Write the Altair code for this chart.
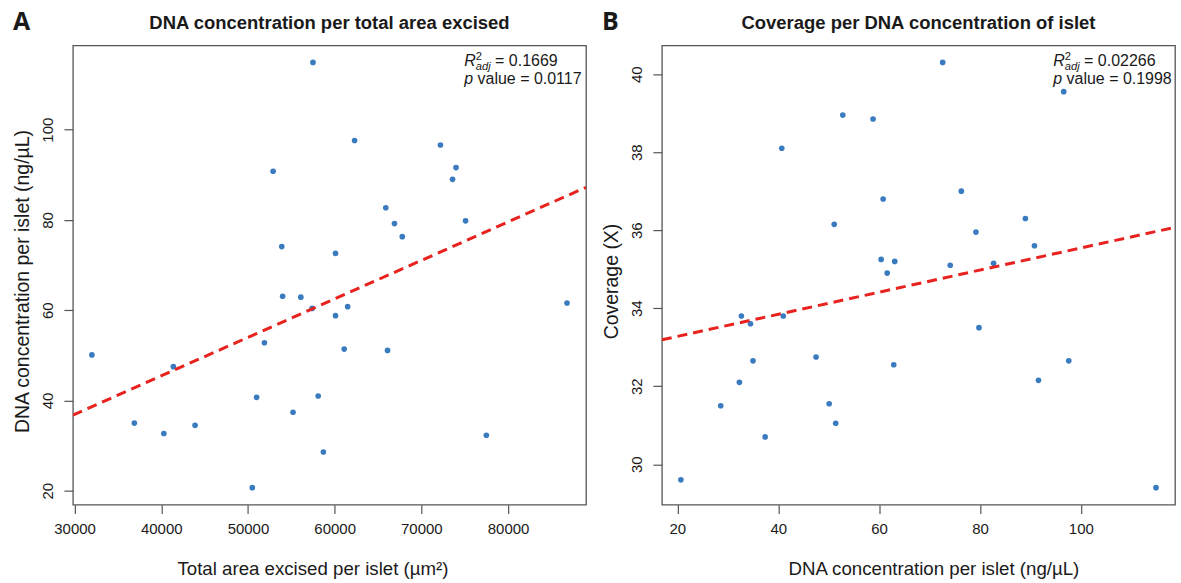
import altair as alt
import pandas as pd

# One entry per islet
area = [32000, 36900, 40300, 41400, 43900, 50500, 51000, 51900, 52900, 53900, 54000,
        55200, 56100, 57400, 57500, 58100, 58700, 60100, 60100, 61100, 61500, 62300,
        65900, 66100, 66900, 67800, 72200, 73600, 74000, 75100, 77500, 86800]
dna = [50.1, 35.0, 32.7, 47.5, 34.5, 20.7, 40.7, 52.8, 90.8, 74.1, 63.1,
       37.4, 62.9, 60.4, 114.9, 41.0, 28.6, 72.6, 58.8, 51.4, 60.8, 97.6,
       82.7, 51.1, 79.2, 76.3, 96.6, 89.0, 91.6, 79.8, 32.3, 61.6]
coverage = [31.55, 32.65, 33.8, 32.75, 33.6, 29.6, 38.1, 38.95, 35.6, 35.1, 35.2,
            30.7, 32.55, 35.25, 29.4, 33.8, 31.5, 40.3, 38.85, 31.05, 36.8, 32.65,
            35.15, 36.15, 35.95, 37.0, 39.55, 36.3, 32.15, 33.5, 32.1, 34.9]

area_ticks = [30000, 40000, 50000, 60000, 70000, 80000]
dna_ticks = [20, 40, 60, 80, 100]
cov_ticks = [30, 32, 34, 36, 38, 40]

df = pd.DataFrame({"area": area, "dna": dna, "coverage": coverage})

FONT = "Liberation Sans"
W, H = 514, 460
GAP = 76
POINT = "#3a7bbf"
RED = "#e8221e"
TXT = "#1a1a1a"
ANN = 16  # annotation font size


def padded(vals):
    lo, hi = min(vals), max(vals)
    pad = 0.04 * (hi - lo)
    return [lo - pad, hi + pad]


def label(text, x, y, size=ANN, style="normal", weight="normal", font=FONT, align="left"):
    return alt.Chart(pd.DataFrame({"t": [text]})).mark_text(
        align=align, baseline="alphabetic", font=font, fontSize=size,
        fontStyle=style, fontWeight=weight, color=TXT,
    ).encode(x=alt.value(x), y=alt.value(y), text="t:N")


def frame_box(left, right):
    # invisible box that fixes the outer extent of a panel
    return alt.Chart(pd.DataFrame({"k": [0]})).mark_rect(opacity=0).encode(
        x=alt.value(-left), x2=alt.value(W + right),
        y=alt.value(-44), y2=alt.value(H + 79))


def panel(xf, yf, xtitle, ytitle, title, xticks, yticks, letter, r2, pval,
          left, right, xtitle_shift):
    xdom = padded(df[xf])
    ydom = padded(df[yf])
    base = alt.Chart(df).encode(
        x=alt.X(f"{xf}:Q",
                scale=alt.Scale(domain=xdom, nice=False, zero=False),
                axis=alt.Axis(values=xticks, format="d", title=xtitle,
                              labelPadding=8, labelFlush=False, labelOverlap=False,
                              titleX=W / 2 + xtitle_shift, titleY=70, titleAlign="center",
                              titleBaseline="alphabetic", titleFontSize=18.7)),
        y=alt.Y(f"{yf}:Q",
                scale=alt.Scale(domain=ydom, nice=False, zero=False),
                axis=alt.Axis(values=yticks, format="d", title=ytitle,
                              labelAngle=270, labelAlign="center", labelBaseline="bottom",
                              labelPadding=8, labelFlush=False, labelOverlap=False,
                              titleAngle=270, titleX=-44, titleY=236,
                              titleAlign="center", titleBaseline="alphabetic",
                              titleFontSize=19.5)),
    )
    pts = base.mark_circle(size=32, color=POINT, opacity=1)
    fit = base.transform_regression(xf, yf, extent=xdom).mark_line(
        color=RED, strokeDash=[10, 6], strokeWidth=3, clip=True)

    # R^2_adj and p value, left-aligned block in the top-right corner
    x0 = 392
    l1, l2 = 21, 39
    r_w = 0.722 * ANN
    sub_w = 1.334 * 0.7 * ANN
    sp = 0.278 * ANN
    texts = [
        label(title, W / 2, -16, size=18.5, weight="bold", align="center"),
        label(letter, -60, -15, size=25, weight="bold", font="Open Sans"),
        label("R", x0, l1, style="italic"),
        label("2", x0 + r_w, l1 - 6.5, size=0.7 * ANN),
        label("adj", x0 + r_w, l1 + 3.5, size=0.7 * ANN, style="italic"),
        label("= " + r2, x0 + r_w + sub_w + sp, l1),
        label("p", x0, l2, style="italic"),
        label("value = " + pval, x0 + 0.556 * ANN + sp, l2),
    ]
    return alt.layer(frame_box(left, right), pts, fit, *texts).properties(width=W, height=H)


a = panel("area", "dna", "Total area excised per islet (µm²)",
          "DNA concentration per islet (ng/µL)",
          "DNA concentration per total area excised",
          area_ticks, dna_ticks, "A", "0.1669", "0.0117", 72, GAP / 2, -17)
b = panel("dna", "coverage", "DNA concentration per islet (ng/µL)",
          "Coverage (X)", "Coverage per DNA concentration of islet",
          dna_ticks, cov_ticks, "B", "0.02266", "0.1998", GAP / 2, 5, 15)

chart = alt.hconcat(a, b, spacing=GAP, bounds="flush").properties(
    padding=0,
    background="white",
).configure_view(
    stroke="#555555", strokeWidth=1.3
).configure_axis(
    domain=False, grid=False, tickColor="#555555", tickSize=9, tickWidth=1.2,
    labelFont=FONT, labelFontSize=15, labelColor=TXT,
    titleFont=FONT, titleFontWeight="normal", titleColor=TXT,
)

chart.save("out.html", embed_options={"renderer": "svg", "actions": False})
